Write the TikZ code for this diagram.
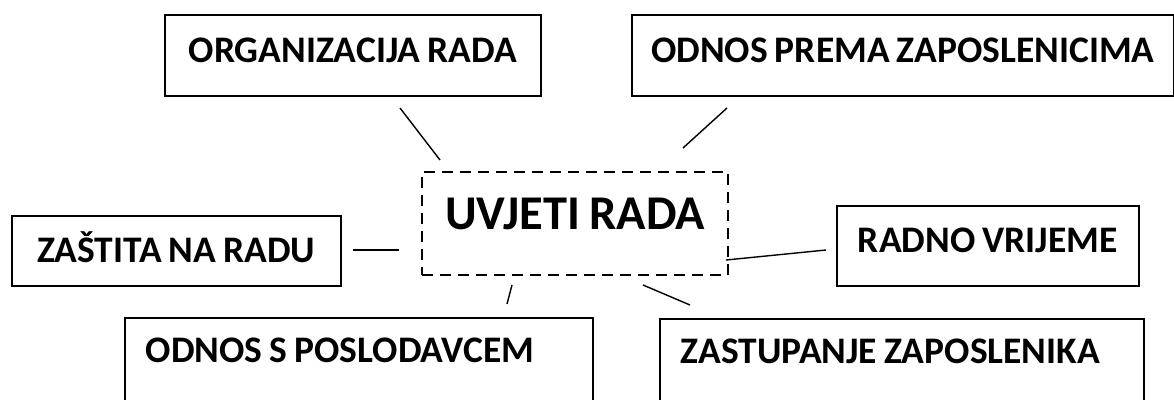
\documentclass[tikz,border=0pt]{standalone}
\usepackage{fontspec}
\setmainfont{Carlito}
\usetikzlibrary{calc}

\newcommand\tightspace{\spaceskip=0.19em\relax}

\tikzset{
	box/.style={draw, line width=1.6pt, anchor=north west, inner sep=0pt,
		font=\bfseries\fontsize{37.5}{42}\selectfont, execute at begin node=\tightspace},
	leftbox/.style={box, inner xsep=21pt, align=left},
	link/.style={line width=1.4pt},
}

\begin{document}
\begin{tikzpicture}[x=1pt,y=-1pt]

	\path[use as bounding box, clip] (0,0) rectangle (1174,399);

	% topic in the middle

	\node[box, dashed, dash pattern=on 11pt off 7pt, line width=2pt,
		minimum width=306pt, text height=57pt, text depth=46pt,
		font=\bfseries\fontsize{48.5}{54}\selectfont] (uvjeti) at (421,171) {UVJETI RADA};

	% boxes round it

	\node[box, minimum width=376pt, text height=48pt, text depth=33pt] (organizacija) at (164,14) {ORGANIZACIJA RADA};
	\node[box, minimum width=542pt, text height=48pt, text depth=33pt] (prema) at (631,14) {ODNOS PREMA ZAPOSLENICIMA};
	\node[box, minimum width=329pt, text height=47pt, text depth=23pt] (zastita) at (11,215) {ZAŠTITA NA RADU};
	\node[box, minimum width=302pt, text height=47pt, text depth=33pt] (radno) at (836,205) {RADNO VRIJEME};
	\node[leftbox, text width=426pt, text height=45pt, text depth=100pt] (poslodavac) at (124,317) {ODNOS S POSLODAVCEM};
	\node[leftbox, text width=442pt, text height=45pt, text depth=100pt] (zastupanje) at (659,318) {ZASTUPANJE ZAPOSLENIKA};

	% connector ends

	\coordinate (o1) at (400,108);  \coordinate (o2) at (440,160);
	\coordinate (p1) at (727,108);  \coordinate (p2) at (683,148);
	\coordinate (z1) at (353,250);  \coordinate (z2) at (399,250);
	\coordinate (r1) at (726,260);  \coordinate (r2) at (826,250);
	\coordinate (s1) at (512,285);  \coordinate (s2) at (507,304);
	\coordinate (e1) at (643,285);  \coordinate (e2) at (690,305);

	\draw[link] (o1) -- (o2);
	\draw[link] (p1) -- (p2);
	\draw[link] (z1) -- (z2);
	\draw[link] (r1) -- (r2);
	\draw[link] (s1) -- (s2);
	\draw[link] (e1) -- (e2);

\end{tikzpicture}
\end{document}
